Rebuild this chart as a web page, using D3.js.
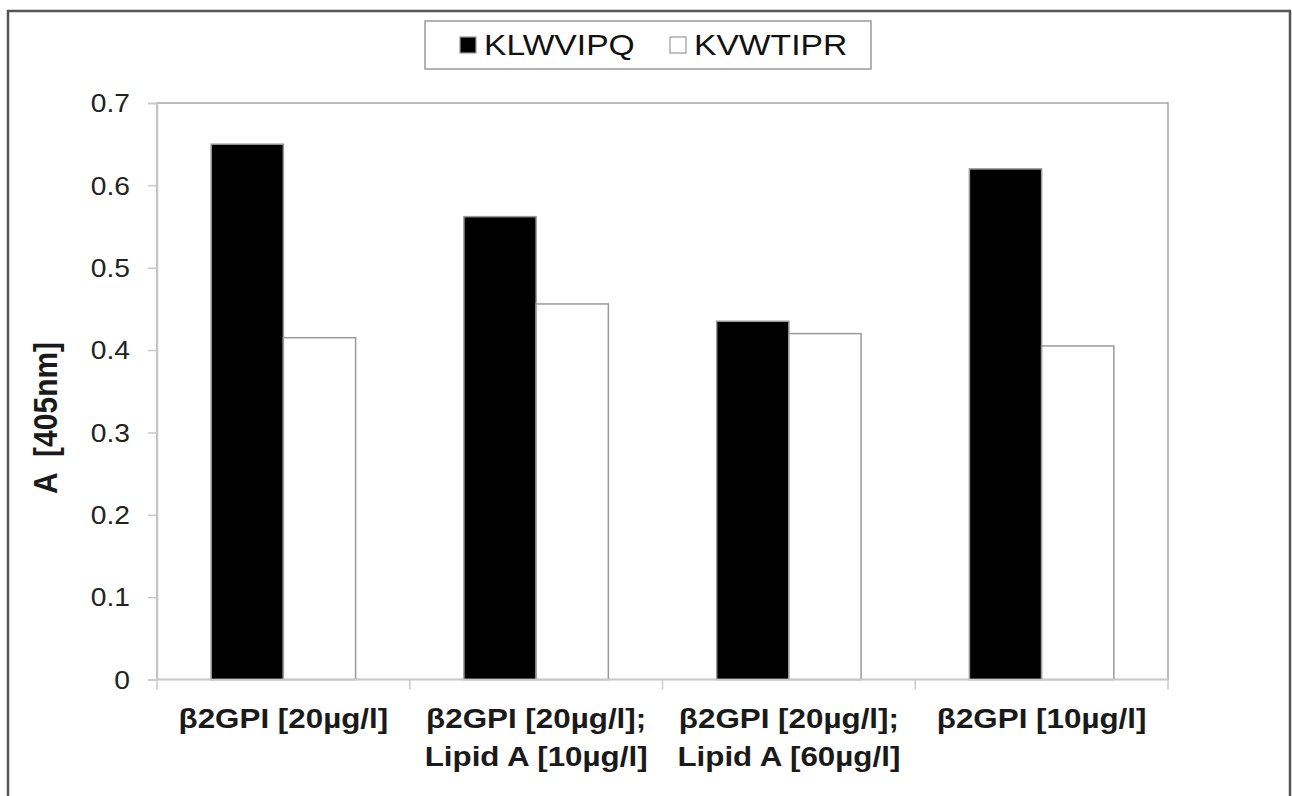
<!DOCTYPE html>
<html>
<head>
<meta charset="utf-8">
<script src="https://cdn.jsdelivr.net/npm/d3@7"></script>
<style>
  body { margin: 0; background: #fff; }
  svg { display: block; }
</style>
</head>
<body>
<svg id="chart"></svg>
<script>
// data
const categories = [
  ["β2GPI [20µg/l]"],
  ["β2GPI [20µg/l];", "Lipid A [10µg/l]"],
  ["β2GPI [20µg/l];", "Lipid A [60µg/l]"],
  ["β2GPI [10µg/l]"]
];
const seriesNames = ["KLWVIPQ", "KVWTIPR"];
const seriesFill = ["#000000", "#ffffff"];
const klwvipq = [0.65, 0.562, 0.435, 0.62];
const kvwtipr = [0.415, 0.456, 0.42, 0.405];
const yTicks = [0, 0.1, 0.2, 0.3, 0.4, 0.5, 0.6, 0.7];

const values = [klwvipq, kvwtipr];
const width = 1292, height = 796;
const margin = { top: 103, right: 124, bottom: 116.5, left: 157 };
const font = "'Liberation Sans', Arial, sans-serif";
const sx = 1.13; // the source image is a little stretched sideways

const svg = d3.select("#chart")
  .attr("width", width)
  .attr("height", height);

svg.append("rect").attr("width", width).attr("height", height).attr("fill", "#fff");

// outer frame (bottom edge runs off the picture)
svg.append("rect")
  .attr("x", 8).attr("y", 11)
  .attr("width", 1282).attr("height", 820)
  .attr("fill", "none")
  .attr("stroke", "#555")
  .attr("stroke-width", 2.5);

const x0 = d3.scaleBand()
  .domain(d3.range(categories.length))
  .range([margin.left, width - margin.right])
  .paddingInner(0).paddingOuter(0);

const x1 = d3.scaleBand()
  .domain(d3.range(seriesNames.length))
  .range([0, x0.bandwidth()])
  .paddingInner(0).paddingOuter(0.75);

const y = d3.scaleLinear()
  .domain([0, 0.7])
  .range([height - margin.bottom, margin.top]);

// plot area border
svg.append("rect")
  .attr("x", margin.left).attr("y", y(0.7))
  .attr("width", x0.range()[1] - margin.left)
  .attr("height", y(0) - y(0.7))
  .attr("fill", "none")
  .attr("stroke", "#a6a6a6")
  .attr("stroke-width", 1.5);

// bars
const groups = svg.append("g").selectAll("g")
  .data(categories)
  .join("g")
  .attr("transform", (d, i) => `translate(${x0(i)},0)`);

groups.selectAll("rect")
  .data((d, i) => values.map((s, j) => ({ s: j, v: s[i] })))
  .join("rect")
  .attr("x", d => x1(d.s))
  .attr("y", d => y(d.v))
  .attr("width", x1.bandwidth())
  .attr("height", d => y(0) - y(d.v))
  .attr("fill", d => seriesFill[d.s])
  .attr("stroke", "#9a9a9a")
  .attr("stroke-width", 1.5);

// y axis
const yAxis = svg.append("g")
  .attr("transform", `translate(${margin.left},0)`)
  .call(d3.axisLeft(y).tickValues(yTicks).tickSize(9).tickPadding(18)
    .tickFormat(d => d === 0 ? "0" : d3.format(".1f")(d)));
yAxis.select(".domain").attr("stroke", "#c8c8c8").attr("stroke-width", 1.5);
yAxis.selectAll(".tick line").attr("stroke", "#c8c8c8").attr("stroke-width", 1.5);
yAxis.selectAll(".tick text")
  .attr("font-family", font)
  .attr("font-size", "25px")
  .attr("fill", "#222")
  .attr("dy", "0.35em")
  .each(function () {
    const t = d3.select(this);
    const xx = +t.attr("x");
    t.attr("x", 0).attr("transform", `translate(${xx},0) scale(${sx},1)`);
  });

// x axis: ticks at category boundaries
const xAxis = svg.append("g").attr("transform", `translate(0,${y(0)})`);
xAxis.append("line")
  .attr("x1", margin.left).attr("x2", x0.range()[1])
  .attr("stroke", "#c8c8c8").attr("stroke-width", 1.5);
xAxis.selectAll(".xtick")
  .data(d3.range(categories.length + 1))
  .join("line")
  .attr("class", "xtick")
  .attr("x1", i => i < categories.length ? x0(i) : x0.range()[1])
  .attr("x2", i => i < categories.length ? x0(i) : x0.range()[1])
  .attr("y1", 0).attr("y2", 10)
  .attr("stroke", "#c8c8c8").attr("stroke-width", 1.5);

const xLabels = xAxis.selectAll(".xlabel")
  .data(categories)
  .join("text")
  .attr("class", "xlabel")
  .attr("transform", (d, i) => `translate(${x0(i) + x0.bandwidth() / 2},48) scale(1.12,1)`)
  .attr("text-anchor", "middle")
  .attr("font-family", font)
  .attr("font-size", "28px")
  .attr("font-weight", "bold")
  .attr("fill", "#1a1a1a");
xLabels.selectAll("tspan")
  .data(d => d)
  .join("tspan")
  .attr("x", 0)
  .attr("dy", (d, i) => i === 0 ? 0 : 39)
  .text(d => d);

// y axis title
svg.append("text")
  .attr("transform", `translate(45,418) rotate(-90) scale(1,${sx})`)
  .attr("text-anchor", "middle")
  .attr("dy", "0.35em")
  .attr("font-family", font)
  .attr("font-size", "30px")
  .attr("font-weight", "bold")
  .attr("fill", "#1a1a1a")
  .attr("xml:space", "preserve")
  .text("A  [405nm]");

// legend
const legend = svg.append("g");
legend.append("rect")
  .attr("x", 425).attr("y", 21)
  .attr("width", 446).attr("height", 48)
  .attr("fill", "#fff")
  .attr("stroke", "#9a9a9a")
  .attr("stroke-width", 1.5);

const legendX = [460, 670];
const items = legend.selectAll(".legend-item")
  .data(seriesNames)
  .join("g")
  .attr("class", "legend-item")
  .attr("transform", (d, i) => `translate(${legendX[i]},45)`);
items.append("rect")
  .attr("x", 0).attr("y", -8)
  .attr("width", 16).attr("height", 16)
  .attr("fill", (d, i) => seriesFill[i])
  .attr("stroke", "#9a9a9a")
  .attr("stroke-width", 1.2);
items.append("text")
  .attr("transform", `translate(24,0) scale(1.16,1)`)
  .attr("dy", "0.36em")
  .attr("font-family", font)
  .attr("font-size", "29px")
  .attr("fill", "#111")
  .text(d => d);
</script>
</body>
</html>
